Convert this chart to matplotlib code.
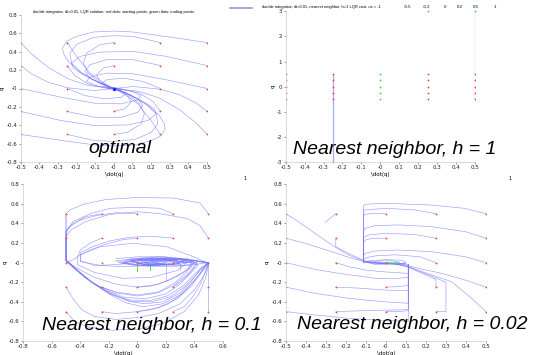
import numpy as np
import matplotlib
matplotlib.use('Agg')
import matplotlib.pyplot as plt
from matplotlib.ticker import FormatStrFormatter

# start grid (qdot, q) used in every panel
start_v = [-0.5, -0.25, 0, 0.25, 0.5]
start_q = [-0.5, -0.25, 0, 0.25, 0.5]

# ---- optimal (LQR) trajectories: (qdot, q)
opt_paths = [
    [(0.5,0.5),(0.3,0.56),(0.1,0.615),(0,0.625),(-0.11,0.615),(-0.2,0.567),(-0.254,0.513),(-0.275,0.44),(-0.271,0.385),(-0.245,0.295),(-0.182,0.185),(-0.093,0.076),(-0.021,0.015),(0,0)],
    [(-0.5,-0.5),(-0.3,-0.56),(-0.1,-0.615),(0,-0.625),(0.11,-0.615),(0.2,-0.567),(0.254,-0.513),(0.275,-0.44),(0.271,-0.385),(0.245,-0.295),(0.182,-0.185),(0.093,-0.076),(0.021,-0.015),(0,0)],
    [(0.5,0.25),(0.282,0.349),(0.104,0.404),(-0.075,0.396),(-0.182,0.349),(-0.227,0.276),(-0.218,0.222),(-0.164,0.149),(-0.075,0.058),(0,0)],
    [(-0.5,-0.25),(-0.282,-0.349),(-0.104,-0.404),(0.075,-0.396),(0.182,-0.349),(0.227,-0.276),(0.218,-0.222),(0.164,-0.149),(0.075,-0.058),(0,0)],
    [(0.5,0),(0.282,0.095),(0.104,0.16),(-0.04,0.167),(-0.129,0.124),(-0.146,0.076),(-0.093,0.029),(0,0)],
    [(-0.5,0),(-0.282,-0.095),(-0.104,-0.16),(0.04,-0.167),(0.129,-0.124),(0.146,-0.076),(0.093,-0.029),(0,0)],
    [(0.5,-0.25),(0.443,-0.16),(0.354,-0.069),(0.246,-0.007),(0.104,0.022),(0,0)],
    [(-0.5,0.25),(-0.443,0.16),(-0.354,0.069),(-0.246,0.007),(-0.104,-0.022),(0,0)],
    [(0.5,-0.5),(0.443,-0.378),(0.354,-0.233),(0.246,-0.105),(0.139,-0.033),(0.032,-0.007),(0,0)],
    [(-0.5,0.5),(-0.443,0.378),(-0.354,0.233),(-0.246,0.105),(-0.139,0.033),(-0.032,0.007),(0,0)],
    [(0.25,0.5),(0.104,0.567),(0,0.575),(-0.11,0.556),(-0.2,0.48),(-0.236,0.385),(-0.227,0.276),(-0.173,0.167),(-0.075,0.058),(0,0)],
    [(-0.25,-0.5),(-0.104,-0.567),(0,-0.575),(0.11,-0.556),(0.2,-0.48),(0.236,-0.385),(0.227,-0.276),(0.173,-0.167),(0.075,-0.058),(0,0)],
    [(0.25,0.25),(0.104,0.313),(-0.04,0.313),(-0.129,0.258),(-0.155,0.185),(-0.129,0.113),(-0.057,0.04),(0,0)],
    [(-0.25,-0.25),(-0.104,-0.313),(0.04,-0.313),(0.129,-0.258),(0.155,-0.185),(0.129,-0.113),(0.057,-0.04),(0,0)],
    [(0.25,0),(0.157,0.076),(0.05,0.113),(-0.04,0.095),(-0.066,0.051),(-0.021,0.011),(0,0)],
    [(-0.25,0),(-0.157,-0.076),(-0.05,-0.113),(0.04,-0.095),(0.066,-0.051),(0.021,-0.011),(0,0)],
    [(0.25,-0.25),(0.211,-0.142),(0.139,-0.051),(0.05,-0.007),(0,0)],
    [(-0.25,0.25),(-0.211,0.142),(-0.139,0.051),(-0.05,0.007),(0,0)],
    [(0.25,-0.5),(0.2,-0.349),(0.129,-0.167),(0.039,-0.04),(0,0)],
    [(-0.25,0.5),(-0.2,0.349),(-0.129,0.167),(-0.039,0.04),(0,0)],
    [(0,0.5),(-0.075,0.476),(-0.146,0.385),(-0.164,0.276),(-0.138,0.167),(-0.075,0.065),(0,0)],
    [(0,-0.5),(0.075,-0.476),(0.146,-0.385),(0.164,-0.276),(0.138,-0.167),(0.075,-0.065),(0,0)],
    [(0,0.25),(-0.057,0.222),(-0.093,0.149),(-0.075,0.076),(-0.0125,0.011),(0,0)],
    [(0,-0.25),(0.057,-0.222),(0.093,-0.149),(0.075,-0.076),(0.0125,-0.011),(0,0)],
    [(-0.06,0.02),(0.0,0.012),(0.05,-0.01),(0.02,-0.02),(-0.04,0.0),(0.0,0.008),(0.03,-0.006)],
]

# ---- nearest neighbor h=1: straight runs and end points
nn1_lines = [
    [(-0.25,0.5),(-0.25,-3)],
    [(0.5,-0.5),(0.5,3)],
]
nn1_green = [(0,-0.5),(0,-0.25),(0,0),(0,0.25),(0,0.5),(0.25,3),(0.5,3),(-0.5,-3),(-0.25,-3)]
nn1_red_cols = [-0.5, -0.25, 0.25, 0.5]

# ---- nearest neighbor h=0.1
nn01_paths = [
    [(0.5,0.5),(0.44,0.61),(0.25,0.66),(0,0.665),(-0.22,0.645),(-0.38,0.595),(-0.47,0.54),(-0.5,0.5),(-0.5,0.02),(-0.43,-0.07),(-0.33,-0.19),(-0.21,-0.31),(-0.08,-0.41),(0.04,-0.45),(0.18,-0.42),(0.3,-0.33),(0.39,-0.2),(0.46,-0.08),(0.5,-0.01),(0.4,0.02),(0.2,0.05),(0,0.04),(-0.15,0.02),(-0.1,-0.01),(0.1,-0.03),(0.3,-0.01),(0.2,0.02),(0.05,0.0)],
    [(0.25,0.5),(0.16,0.555),(0,0.565),(-0.19,0.555),(-0.33,0.5),(-0.45,0.42),(-0.5,0.32),(-0.5,0.02),(-0.42,-0.08),(-0.32,-0.2),(-0.2,-0.3),(-0.07,-0.39),(0.05,-0.42),(0.18,-0.4),(0.3,-0.31),(0.38,-0.19),(0.44,-0.07),(0.5,0.0),(0.35,0.04),(0.15,0.06),(-0.05,0.04),(-0.13,0.0),(0.0,-0.03),(0.25,-0.02),(0.15,0.02),(0.05,0.0)],
    [(0,0.5),(-0.15,0.51),(-0.29,0.48),(-0.41,0.43),(-0.48,0.36),(-0.5,0.3),(-0.5,0.03),(-0.41,-0.09),(-0.3,-0.22),(-0.17,-0.33),(-0.03,-0.4),(0.1,-0.4),(0.23,-0.35),(0.33,-0.25),(0.41,-0.13),(0.47,-0.04),(0.5,0.0),(0.3,0.04),(0.1,0.05),(-0.05,0.03),(-0.1,0.0),(0.05,-0.03),(0.2,-0.02),(0.1,0.01)],
    [(0.5,0.25),(0.44,0.38),(0.35,0.45),(0.16,0.5),(0,0.52),(-0.2,0.49),(-0.36,0.42),(-0.46,0.34),(-0.5,0.27),(-0.5,0.03),(-0.42,-0.08),(-0.31,-0.21),(-0.19,-0.32),(-0.06,-0.38),(0.08,-0.39),(0.21,-0.34),(0.32,-0.24),(0.4,-0.12),(0.46,-0.04),(0.5,0.0)],
    [(-0.25,0.5),(-0.36,0.47),(-0.46,0.39),(-0.5,0.32),(-0.5,0.02),(-0.44,-0.06),(-0.35,-0.17),(-0.24,-0.27),(-0.1,-0.35),(0.05,-0.37),(0.2,-0.32),(0.3,-0.22),(0.38,-0.1),(0.43,-0.02),(0.3,0.03),(0.1,0.04),(-0.05,0.02),(0.05,-0.02),(0.2,-0.01)],
    [(-0.5,0.5),(-0.5,0.02),(-0.45,-0.05),(-0.37,-0.15),(-0.27,-0.24),(-0.14,-0.31),(0,-0.34),(0.14,-0.31),(0.26,-0.23),(0.35,-0.12),(0.4,-0.05),(0.42,0.0),(0.3,0.03),(0.1,0.03),(-0.05,0.01),(0.05,-0.015),(0.15,0.0)],
    [(0.25,0.25),(0.1,0.27),(-0.05,0.26),(-0.2,0.22),(-0.32,0.16),(-0.4,0.1),(-0.4,0.02),(-0.3,-0.03),(-0.15,-0.02),(0,0.0),(0.2,0.01),(0.35,0.0),(0.3,-0.02),(0.1,-0.01),(0.05,0.0)],
    [(0,0.25),(-0.1,0.235),(-0.22,0.19),(-0.33,0.13),(-0.4,0.08),(-0.4,0.01),(-0.25,-0.03),(-0.1,-0.04),(0.1,-0.03),(0.3,0.0),(0.2,0.03),(0.0,0.02)],
    [(-0.25,0.25),(-0.33,0.2),(-0.4,0.13),(-0.42,0.05),(-0.42,-0.02),(-0.3,-0.1),(-0.1,-0.16),(0.1,-0.15),(0.28,-0.08),(0.35,0.0),(0.2,0.04),(0.0,0.03),(-0.1,0.0)],
    [(-0.5,0.25),(-0.5,0.02),(-0.42,-0.06),(-0.3,-0.15),(-0.15,-0.22),(0,-0.25),(0.15,-0.22),(0.28,-0.14),(0.38,-0.05),(0.4,0.02),(0.2,0.06),(0,0.06),(-0.15,0.04)],
    [(-0.5,0),(-0.45,0.03),(-0.4,0.08),(-0.26,0.163),(-0.03,0.197),(0.206,0.163),(0.393,0.061),(0.49,0.0),(0.35,-0.03),(0.1,-0.02),(0.0,0.0)],
    [(-0.1,0.0),(0.0,0.035),(0.2,0.04),(0.38,0.02),(0.4,-0.01),(0.3,-0.035),(0.1,-0.04),(-0.05,-0.02),(-0.08,0.0),(0.05,0.025),(0.25,0.025),(0.33,0.0),(0.2,-0.025),(0.05,-0.02),(0.0,0.0)],
    [(0.5,-0.5),(0.5,0.0),(0.3,0.04),(0.1,0.04),(-0.05,0.02),(0.05,-0.02),(0.2,-0.02),(0.1,0.0)],
    [(0.25,-0.5),(0.33,-0.45),(0.4,-0.33),(0.45,-0.2),(0.48,-0.08),(0.5,0.0),(0.35,0.03),(0.15,0.04),(0,0.03),(0.1,-0.02),(0.2,0.0)],
    [(0.25,-0.25),(0.3,-0.2),(0.36,-0.12),(0.4,-0.04),(0.42,0.0),(0.3,0.03),(0.1,0.03)],
    [(0,-0.25),(0.1,-0.24),(0.22,-0.18),(0.32,-0.1),(0.38,-0.03),(0.38,0.0),(0.25,0.02),(0.1,0.02),(0.02,0.0)],
    [(0,-0.5),(0.1,-0.48),(0.22,-0.42),(0.33,-0.3),(0.42,-0.15),(0.47,-0.05),(0.5,0.0)],
    [(-0.25,-0.25),(-0.15,-0.3),(0,-0.33),(0.15,-0.3),(0.27,-0.2),(0.35,-0.09),(0.38,0.0),(0.2,0.03),(0.05,0.02)],
    [(-0.25,-0.5),(-0.15,-0.52),(0,-0.5),(0.15,-0.46),(0.28,-0.37),(0.38,-0.24),(0.45,-0.1),(0.5,0.0)],
    [(-0.5,-0.25),(-0.45,-0.37),(-0.39,-0.48),(-0.3,-0.55),(-0.15,-0.58),(0.0,-0.56),(0.15,-0.52),(0.3,-0.42),(0.4,-0.28),(0.47,-0.13),(0.5,-0.02)],
    [(-0.5,-0.5),(-0.44,-0.6),(-0.34,-0.66),(-0.18,-0.69),(0,-0.68),(0.18,-0.62),(0.33,-0.5),(0.43,-0.33),(0.48,-0.16),(0.5,-0.02)],
    [(0.2,-0.02),(0.2,-0.19)],
    [(0.3,-0.01),(0.3,-0.075)],
]
nn01_green = [[(0,-0.02),(0,-0.09)], [(0.09,-0.01),(0.09,-0.07)]]

# ---- nearest neighbor h=0.02
nn002_paths = [
    [(0.5,0.5),(0.395,0.554),(0.228,0.588),(0,0.606),(-0.104,0.596),(-0.112,0.582),(-0.112,0.01),(-0.05,-0.01),(0.05,-0.012),(0.1,-0.01)],
    [(0.25,0.5),(0.146,0.538),(0,0.555),(-0.104,0.538),(-0.112,0.52),(-0.112,0.01),(0,-0.01),(0.1,-0.012)],
    [(0,0.5),(-0.054,0.504),(-0.104,0.494),(-0.112,0.48),(-0.112,0.005),(0.05,0.0)],
    [(0.5,0.25),(0.395,0.317),(0.228,0.368),(0.062,0.385),(-0.054,0.378),(-0.104,0.351),(-0.112,0.317),(-0.112,0.01)],
    [(0.25,0.25),(0.146,0.287),(0,0.3),(-0.087,0.283),(-0.11,0.259),(-0.112,0.01)],
    [(0,0.25),(-0.07,0.246),(-0.104,0.23),(-0.112,0.2),(-0.112,0.01)],
    [(0.5,0),(0.395,0.061),(0.228,0.112),(0.062,0.129),(-0.054,0.119),(-0.104,0.095),(-0.112,0.061),(-0.112,0.01)],
    [(0.25,0),(0.17,0.06),(0.05,0.08),(-0.05,0.07),(-0.1,0.05),(-0.112,0.03),(-0.112,0.0)],
    [(0.5,-0.25),(0.395,-0.177),(0.278,-0.109),(0.162,-0.058),(0.096,-0.024),(0.03,-0.005),(0,0)],
    [(0.5,-0.5),(0.428,-0.364),(0.328,-0.194),(0.229,-0.126),(0.112,-0.041),(0.062,-0.017),(0,0)],
    [(0.25,-0.25),(0.25,-0.17),(0.17,-0.1),(0.1,-0.035),(0.03,-0.01)],
    [(0.25,-0.5),(0.3,-0.5),(0.3,-0.2),(0.22,-0.13),(0.12,-0.05),(0.05,-0.015)],
    [(0,-0.25),(0.062,-0.245),(0.112,-0.23),(0.112,-0.02),(0.05,-0.01)],
    [(0,-0.5),(0.06,-0.5),(0.112,-0.49),(0.112,-0.02)],
    [(-0.25,-0.5),(-0.1,-0.49),(0.112,-0.48),(0.112,-0.02)],
    [(-0.25,-0.25),(-0.137,-0.26),(0,-0.28),(0.112,-0.285),(0.112,-0.02)],
    [(-0.25,0),(-0.187,-0.04),(-0.104,-0.075),(-0.02,-0.092),(0.112,-0.11),(0.112,-0.02)],
    [(-0.25,0.25),(-0.25,0.163),(-0.17,0.078),(-0.104,0.017),(-0.03,-0.005),(0.05,-0.01)],
    [(-0.25,0.5),(-0.304,0.41)],
    [(-0.5,0.5),(-0.437,0.419),(-0.354,0.3),(-0.27,0.18),(-0.187,0.078),(-0.112,0.017),(-0.054,-0.007),(0.05,-0.012)],
    [(-0.5,0.25),(-0.403,0.197),(-0.27,0.112),(-0.17,0.044),(-0.104,0.01),(0,-0.008)],
    [(-0.5,0),(-0.35,-0.07),(-0.2,-0.12),(-0.05,-0.16),(0.06,-0.16),(0.112,-0.15),(0.112,-0.02)],
    [(-0.5,-0.25),(-0.354,-0.313),(-0.187,-0.364),(-0.02,-0.398),(0.112,-0.415),(0.112,-0.02)],
    [(-0.5,-0.5),(-0.354,-0.534),(-0.187,-0.568),(0,-0.59),(0.112,-0.6),(0.112,-0.02)],
    [(-0.112,0.0),(-0.08,0.02),(0,0.03),(0.08,0.025),(0.1,0.0),(0.05,-0.02),(-0.05,-0.02),(-0.09,0.0),(-0.05,0.015),(0.03,0.02),(0.07,0.005),(0.03,-0.01),(-0.03,-0.01)],
]
nn002_green = [[(0.0,0.0),(0.06,0.0)]]

line_c = '#7373ff'
red_c = '#ff3b3b'
green_c = '#33dd33'

fig = plt.figure(figsize=(5.35, 3.55), dpi=100)
W, H = 535.0, 355.0

def px_axes(x0, x1, ytop, ybot):
    return fig.add_axes([x0/W, 1 - ybot/H, (x1 - x0)/W, (ybot - ytop)/H])

def style(ax, xt, yt, xlim, ylim):
    ax.set_xlim(xlim)
    ax.set_ylim(ylim)
    ax.set_xticks(xt)
    ax.set_yticks(yt)
    ax.xaxis.set_major_formatter(FormatStrFormatter('%g'))
    ax.yaxis.set_major_formatter(FormatStrFormatter('%g'))
    ax.tick_params(labelsize=4, length=1.5, width=0.4, pad=1, colors='#555555', labelcolor='#222222')
    for key, spine in ax.spines.items():
        if key in ('left', 'bottom'):
            spine.set_color('#cccccc')
            spine.set_linewidth(0.5)
        else:
            spine.set_visible(False)
    ax.set_xlabel('\\dot(q)', fontsize=4, labelpad=1)
    ax.set_ylabel('q', fontsize=4, labelpad=1)

def draw_paths(ax, paths):
    for p in paths:
        p = np.array(p)
        ax.plot(p[:, 0], p[:, 1], c=line_c, lw=0.45, alpha=0.7)

def draw_starts(ax, cols):
    for v in cols:
        ax.plot([v]*len(start_q), start_q, 'o', c=red_c, ms=1.3, mew=0)

# top left: optimal
ax1 = px_axes(20.7, 207, 15, 162)
draw_paths(ax1, opt_paths)
draw_starts(ax1, start_v)
ax1.plot([0], [0], 'o', c='#2222ee', ms=2.5, mew=0)
style(ax1, np.round(np.arange(-0.5, 0.51, 0.1), 1), np.round(np.arange(-0.8, 0.81, 0.2), 1), (-0.5, 0.5), (-0.8, 0.8))
ax1.set_title('double integrator, dt=0.01, LQR solution. red dots: starting points, green dots: ending points',
              fontsize=2.9, pad=1.5, family='Liberation Sans')

# top right: nearest neighbor h=1
ax2 = px_axes(285.7, 475, 11.3, 162)
for seg in nn1_lines:
    seg = np.array(seg)
    ax2.plot(seg[:, 0], seg[:, 1], c=line_c, lw=0.9, alpha=0.6)
draw_starts(ax2, nn1_red_cols)
g = np.array(nn1_green)
ax2.plot(g[:, 0], g[:, 1], 'o', c=green_c, ms=1.3, mew=0, clip_on=False)
style(ax2, np.round(np.arange(-0.5, 0.51, 0.1), 1), [-3, -2, -1, 0, 1, 2, 3], (-0.5, 0.5), (-3, 3))
fig.text(262/W, 1 - 7/H, 'double integrator, dt=0.01, nearest neighbor, h=1 LQR cost. us = -1',
         fontsize=2.9, family='Liberation Sans', va='center', ha='left')
us_vals = ['-0.5', '-0.2', '0', '0.2', '0.5', '1']
us_px = [408, 427, 445, 460, 476, 495]
for s, xp in zip(us_vals, us_px):
    fig.text(xp/W, 1 - 7/H, s, fontsize=3.2, family='Liberation Sans', va='center', ha='center')
fig.add_artist(plt.Line2D([230/W, 252/W], [1 - 8/H, 1 - 8/H], color='#9999dd', lw=1.2))

# bottom left: nearest neighbor h=0.1
ax3 = px_axes(23.3, 222.7, 184.3, 341)
draw_paths(ax3, nn01_paths)
draw_starts(ax3, start_v)
for seg in nn01_green:
    seg = np.array(seg)
    ax3.plot(seg[:, 0], seg[:, 1], c=green_c, lw=0.6)
style(ax3, np.round(np.arange(-0.8, 0.61, 0.2), 1), np.round(np.arange(-0.8, 0.81, 0.2), 1), (-0.8, 0.6), (-0.8, 0.8))

# bottom right: nearest neighbor h=0.02
ax4 = px_axes(285.7, 486, 184.3, 341)
draw_paths(ax4, nn002_paths)
draw_starts(ax4, start_v)
for seg in nn002_green:
    seg = np.array(seg)
    ax4.plot(seg[:, 0], seg[:, 1], c=green_c, lw=0.6)
style(ax4, np.round(np.arange(-0.5, 0.51, 0.1), 1), np.round(np.arange(-0.8, 0.81, 0.2), 1), (-0.5, 0.5), (-0.8, 0.8))

# figure numbers
fig.text(245/W, 1 - 178/H, '1', fontsize=3.5, ha='center', va='center')
fig.text(510/W, 1 - 178/H, '1', fontsize=3.5, ha='center', va='center')

# big captions
big = dict(fontsize=14, family='Liberation Sans', style='italic', va='baseline', ha='left', color='black')
fig.text(88/W, 1 - 153/H, 'optimal', **big)
fig.text(293/W, 1 - 153.5/H, 'Nearest neighbor, h = 1', **big)
fig.text(42/W, 1 - 330/H, 'Nearest neighbor, h = 0.1', **big)
fig.text(297/W, 1 - 329/H, 'Nearest neighbor, h = 0.02', **big)

fig.savefig('out.png', dpi=100)
